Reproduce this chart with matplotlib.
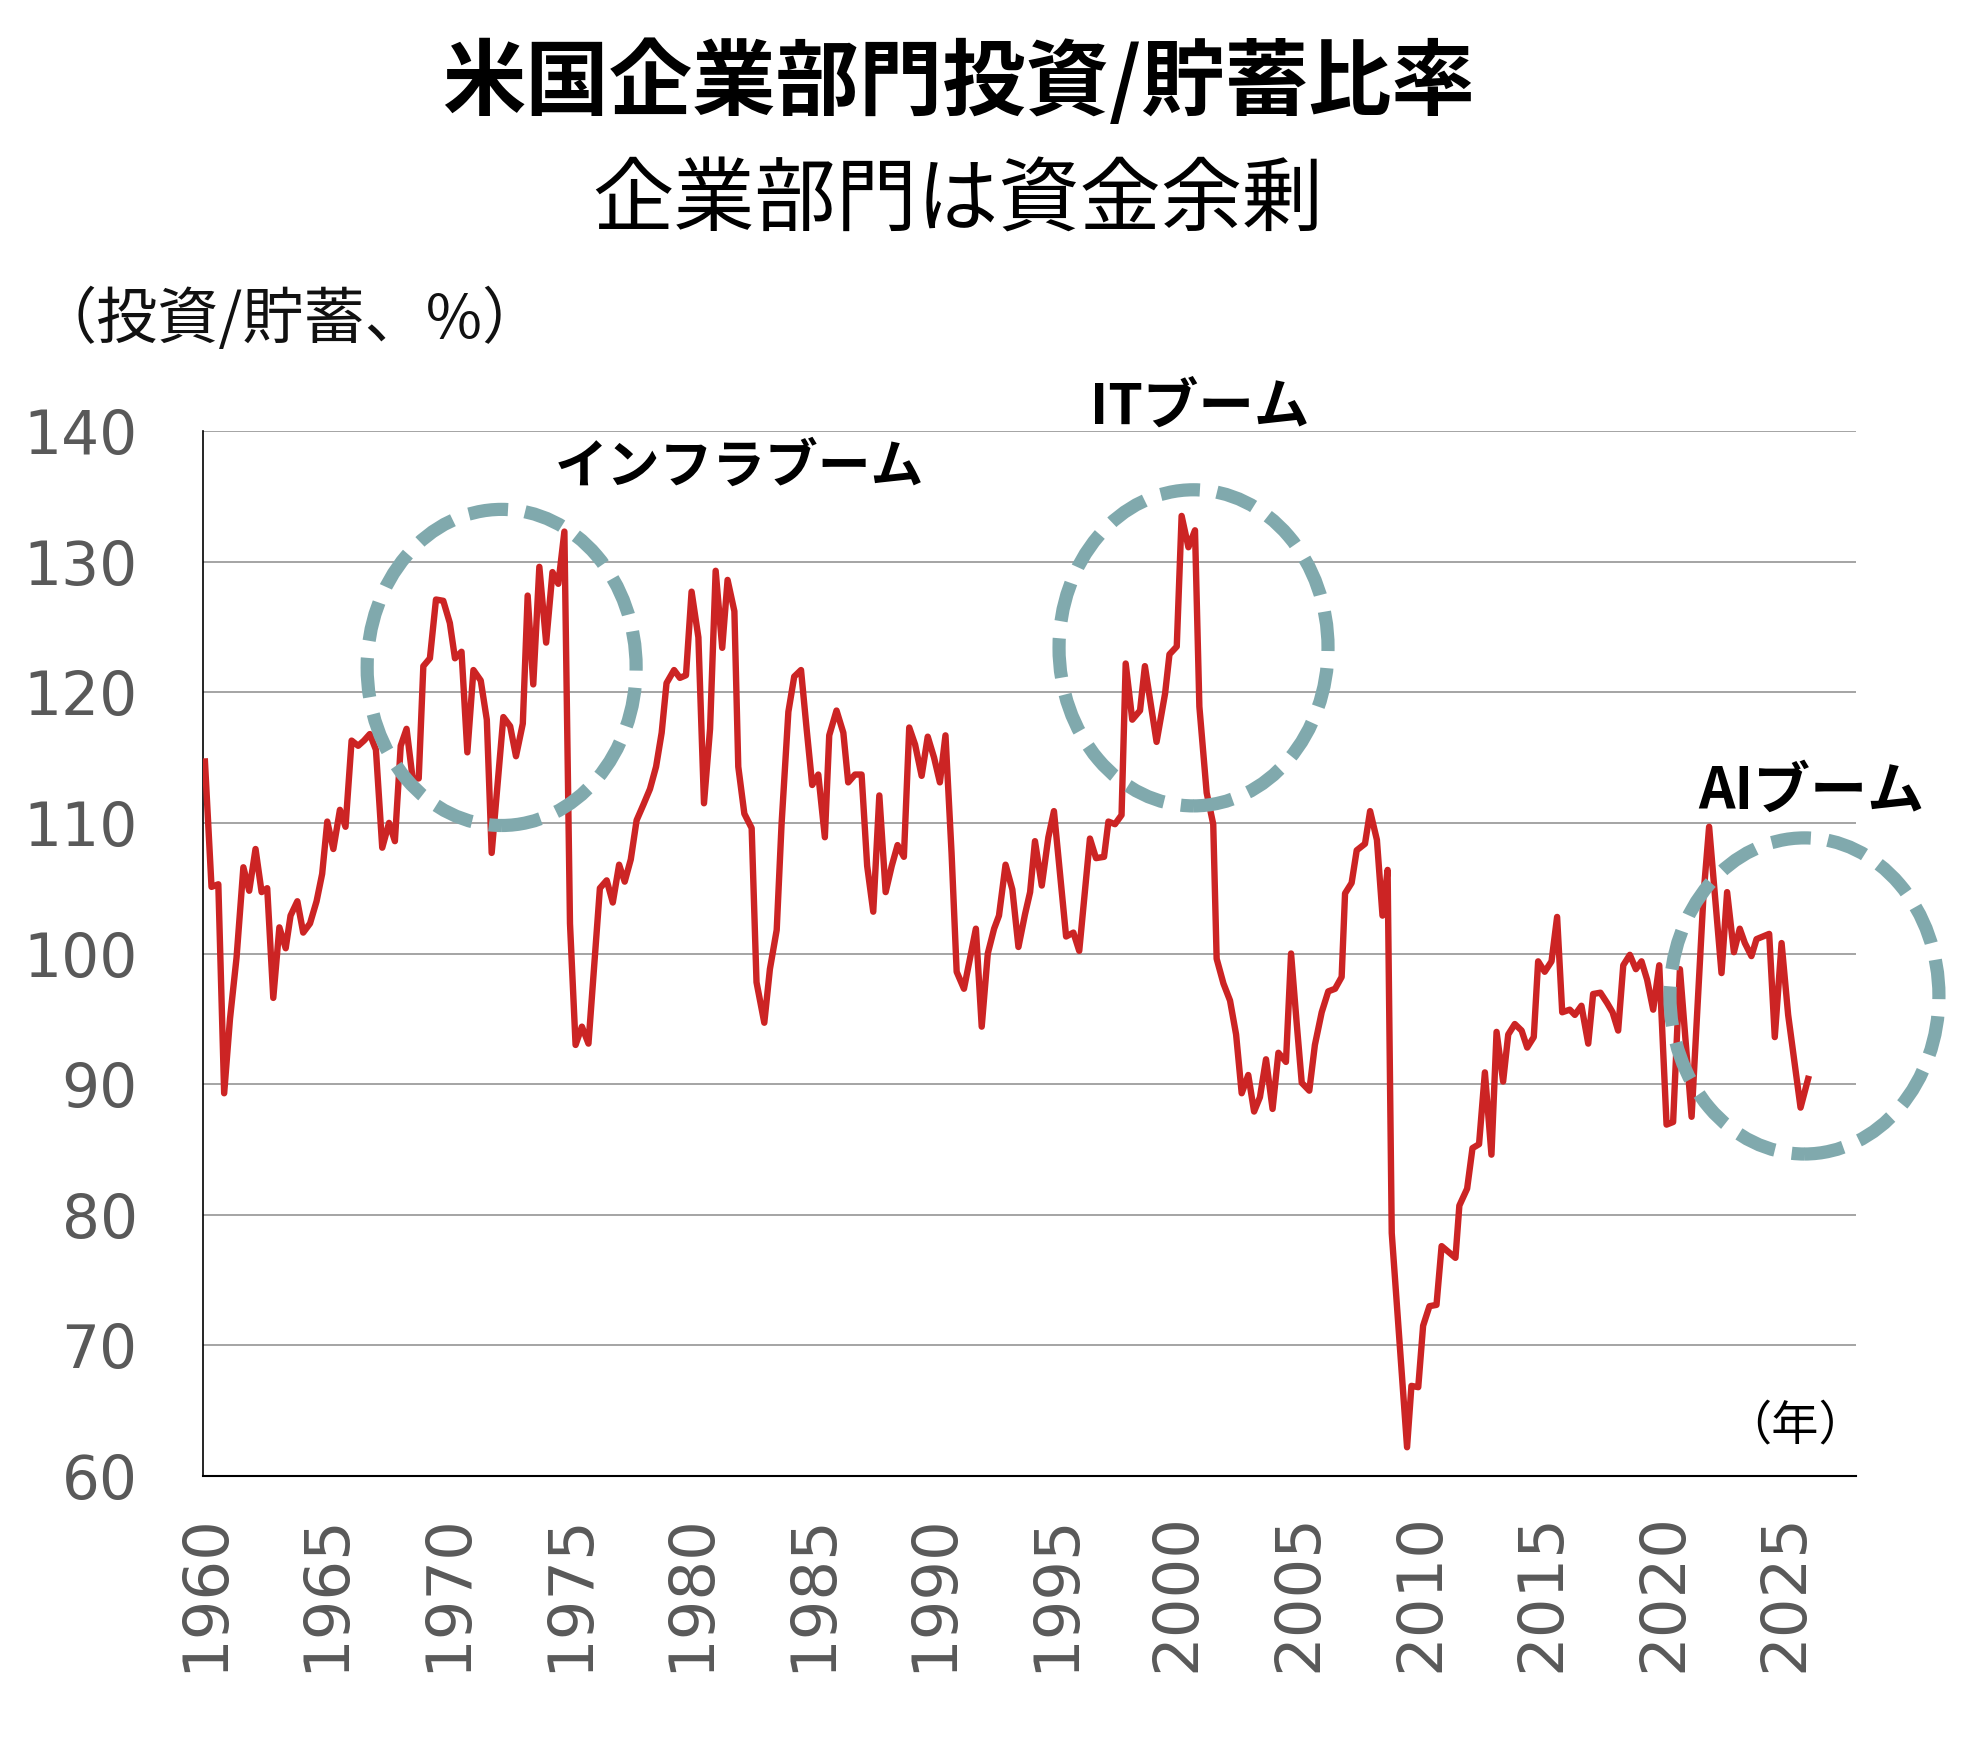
import numpy as np
import matplotlib
matplotlib.use('Agg')
import matplotlib.pyplot as plt
from matplotlib.patches import Ellipse

# 米国企業部門 投資/貯蓄比率 (quarterly)
years = [
    1960.00, 1960.27, 1960.55, 1960.79, 1961.03, 1961.30, 1961.58, 1961.82,
    1962.08, 1962.33, 1962.56, 1962.81, 1963.06, 1963.32, 1963.52, 1963.80,
    1964.04, 1964.32, 1964.59, 1964.82, 1965.03, 1965.28, 1965.55, 1965.78,
    1966.03, 1966.30, 1966.54, 1966.78, 1967.03, 1967.29, 1967.57, 1967.81,
    1968.05, 1968.29, 1968.54, 1968.79, 1968.98, 1969.25, 1969.50, 1969.80,
    1970.07, 1970.28, 1970.55, 1970.79, 1971.04, 1971.34, 1971.59, 1971.79,
    1972.27, 1972.55, 1972.79, 1973.07, 1973.27, 1973.50, 1973.75, 1974.03,
    1974.29, 1974.53, 1974.78, 1975.01, 1975.24, 1975.50, 1975.77, 1976.24,
    1976.52, 1976.77, 1977.03, 1977.26, 1977.51, 1977.75, 1978.03, 1978.30,
    1978.55, 1978.78, 1978.98, 1979.29, 1979.53, 1979.78, 1980.01, 1980.29,
    1980.52, 1980.77, 1981.00, 1981.27, 1981.49, 1981.77, 1981.93, 1982.18,
    1982.48, 1982.68, 1983.00, 1983.23, 1983.51, 1983.71, 1983.99, 1984.23,
    1984.51, 1984.74, 1984.97, 1985.22, 1985.49, 1985.67, 1985.97, 1986.25,
    1986.45, 1986.73, 1987.00, 1987.23, 1987.48, 1987.73, 1987.99, 1988.24,
    1988.48, 1988.74, 1988.96, 1989.20, 1989.47, 1989.72, 1989.98, 1990.22,
    1990.45, 1990.70, 1990.91, 1991.21, 1991.70, 1991.94, 1992.19, 1992.45,
    1992.65, 1992.92, 1993.20, 1993.45, 1993.72, 1993.93, 1994.13, 1994.41,
    1994.68, 1994.91, 1995.41, 1995.71, 1995.95, 1996.39, 1996.64, 1996.97,
    1997.15, 1997.42, 1997.69, 1997.86, 1998.13, 1998.45, 1998.65, 1999.13,
    1999.48, 1999.66, 1999.96, 2000.16, 2000.44, 2000.71, 2000.89, 2001.19,
    2001.46, 2001.60, 2001.88, 2002.15, 2002.40, 2002.63, 2002.90, 2003.14,
    2003.38, 2003.63, 2003.90, 2004.14, 2004.45, 2004.66, 2004.89, 2005.10,
    2005.41, 2005.64, 2005.92, 2006.19, 2006.47, 2006.74, 2006.88, 2007.15,
    2007.36, 2007.70, 2007.91, 2008.19, 2008.42, 2008.63, 2008.80, 2009.43,
    2009.61, 2009.89, 2010.09, 2010.35, 2010.64, 2010.85, 2011.42, 2011.58,
    2011.90, 2012.12, 2012.39, 2012.63, 2012.90, 2013.11, 2013.38, 2013.59,
    2013.86, 2014.14, 2014.37, 2014.64, 2014.82, 2015.09, 2015.37, 2015.60,
    2015.81, 2016.12, 2016.33, 2016.60, 2016.88, 2017.08, 2017.38, 2017.66,
    2017.88, 2018.11, 2018.32, 2018.59, 2018.84, 2019.07, 2019.30, 2019.55,
    2019.80, 2020.10, 2020.37, 2020.65, 2021.13, 2021.62, 2021.85, 2022.36,
    2022.59, 2022.87, 2023.11, 2023.32, 2023.59, 2023.80, 2024.32, 2024.55,
    2024.83, 2025.10, 2025.61, 2025.92,
]
ratio = [
    114.7, 105.1, 105.3, 89.3, 95.0, 99.7, 106.6, 104.8,
    108.0, 104.7, 105.0, 96.6, 102.0, 100.4, 102.9, 104.0,
    101.6, 102.3, 104.0, 106.1, 110.1, 108.0, 111.0, 109.7,
    116.3, 115.9, 116.3, 116.8, 115.6, 108.1, 110.0, 108.6,
    115.9, 117.2, 113.4, 113.4, 122.0, 122.6, 127.1, 127.0,
    125.3, 122.6, 123.1, 115.4, 121.7, 120.9, 117.9, 107.7,
    118.1, 117.4, 115.1, 117.6, 127.4, 120.6, 129.6, 123.8,
    129.2, 128.3, 132.3, 102.3, 93.0, 94.4, 93.1, 105.0,
    105.6, 103.9, 106.8, 105.5, 107.2, 110.2, 111.4, 112.6,
    114.3, 116.9, 120.7, 121.7, 121.1, 121.3, 127.7, 124.2,
    111.5, 117.2, 129.3, 123.4, 128.6, 126.2, 114.3, 110.7,
    109.6, 97.8, 94.7, 98.8, 101.8, 109.9, 118.5, 121.2,
    121.7, 117.2, 112.9, 113.7, 108.9, 116.7, 118.6, 116.9,
    113.1, 113.7, 113.7, 106.7, 103.2, 112.1, 104.7, 106.7,
    108.3, 107.4, 117.3, 116.0, 113.6, 116.6, 115.0, 113.1,
    116.7, 107.7, 98.6, 97.3, 101.9, 94.4, 100.0, 101.9,
    102.9, 106.8, 104.9, 100.5, 103.0, 104.7, 108.6, 105.2,
    108.9, 110.9, 101.3, 101.6, 100.2, 108.8, 107.3, 107.4,
    110.1, 109.9, 110.6, 122.2, 117.9, 118.6, 122.0, 116.2,
    119.9, 122.9, 123.5, 133.5, 131.1, 132.4, 118.9, 112.3,
    109.9, 99.6, 97.7, 96.4, 93.8, 89.3, 90.7, 87.9,
    89.0, 91.9, 88.1, 92.4, 91.7, 100.0, 94.7, 90.1,
    89.5, 93.0, 95.5, 97.1, 97.3, 98.2, 104.6, 105.4,
    107.9, 108.4, 110.9, 108.7, 102.9, 106.4, 78.6, 62.2,
    66.9, 66.8, 71.5, 73.0, 73.1, 77.6, 76.7, 80.7,
    82.0, 85.1, 85.4, 90.9, 84.6, 94.0, 90.2, 93.8,
    94.6, 94.1, 92.8, 93.6, 99.4, 98.6, 99.4, 102.8,
    95.5, 95.7, 95.3, 96.0, 93.1, 96.9, 97.0, 96.2,
    95.5, 94.1, 99.1, 99.9, 98.8, 99.4, 98.0, 95.7,
    99.1, 86.9, 87.1, 98.8, 87.5, 104.5, 109.7, 98.5,
    104.7, 100.1, 101.9, 100.8, 99.8, 101.1, 101.5, 93.6,
    100.8, 95.3, 88.2, 90.4,
]

year_ticks = list(range(1960, 2026, 5))
y_ticks = [60, 70, 80, 90, 100, 110, 120, 130, 140]

# boom periods: (label, centre year, centre value)
booms = [
    ('インフラブーム', 1972.2, 121.9),
    ('ITブーム', 2000.65, 123.4),
    ('AIブーム', 2025.77, 96.75),
]

JP = ['Noto Sans CJK JP', 'DejaVu Sans']
W, H = 1964, 1738
RED = '#CC2424'
TEAL = '#80A9AD'


def fx(px):
    return px / W


def fy(py):
    return 1 - py / H


fig = plt.figure(figsize=(W / 100, H / 100), dpi=100)
ax = fig.add_axes([fx(203), fy(1476), fx(1856) - fx(203), fy(431) - fy(1476)])

ax.plot(years, ratio, color=RED, lw=4.6, solid_joinstyle='round', zorder=3)

ax.set_xlim(1959.92, 2027.89)
ax.set_ylim(60, 140)
ax.set_xticks(year_ticks)
ax.set_xticklabels([str(y) for y in year_ticks], rotation=90)
ax.set_yticks(y_ticks)
ax.tick_params(axis='both', length=0, labelcolor='#595959')
ax.tick_params(axis='y', pad=47, labelsize=43)
ax.tick_params(axis='x', pad=27, labelsize=45)

ax.yaxis.grid(True, color='#8C8C8C', lw=1.1)
ax.set_axisbelow(True)
for side in ['top', 'right']:
    ax.spines[side].set_visible(False)
ax.spines['left'].set_color('black')
ax.spines['left'].set_linewidth(1.2)
ax.spines['bottom'].set_color('black')
ax.spines['bottom'].set_linewidth(1.5)

# dashed rings round each boom
for label, cx, cy in booms:
    ring = Ellipse((cx, cy), width=11.06, height=24.2, fill=False,
                   edgecolor=TEAL, lw=9.5, linestyle=(0, (3.0, 1.3)),
                   capstyle='butt', clip_on=False, zorder=4)
    ax.add_patch(ring)

fig.text(fx(958), fy(84), '米国企業部門投資/貯蓄比率', ha='center', va='center',
         fontsize=60, fontweight='bold', family=JP)
fig.text(fx(958), fy(201), '企業部門は資金余剰', ha='center', va='center',
         fontsize=58.5, family=JP)
fig.text(fx(36), fy(320), '（投資/貯蓄、%）', ha='left', va='center',
         fontsize=44, family=JP, color='#111111')
fig.text(fx(1795), fy(1426), '（年）', ha='center', va='center',
         fontsize=34, family=JP)

label_pos = {'インフラブーム': (739, 467), 'ITブーム': (1200, 408), 'AIブーム': (1811, 792)}
label_size = {'インフラブーム': 38, 'ITブーム': 40, 'AIブーム': 41}
for label, cx, cy in booms:
    px, py = label_pos[label]
    fig.text(fx(px), fy(py), label, ha='center', va='center',
             fontsize=label_size[label], fontweight='bold', family=JP)

fig.savefig('out.png', dpi=100)
